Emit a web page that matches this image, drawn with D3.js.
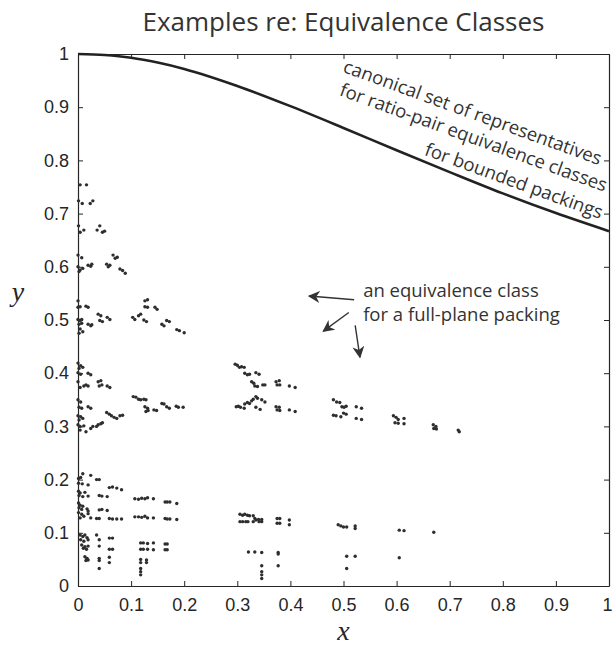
<!DOCTYPE html>
<html>
<head>
<meta charset="utf-8">
<script src="https://cdn.jsdelivr.net/npm/d3@7"></script>
<style>
  html, body { margin: 0; padding: 0; background: #fff; }
  svg { display: block; }
</style>
</head>
<body>
<svg id="chart" width="613" height="648"></svg>
<script>
// ---------- data ----------
const xTicks = [0, 0.1, 0.2, 0.3, 0.4, 0.5, 0.6, 0.7, 0.8, 0.9, 1];
const yTicks = [0, 0.1, 0.2, 0.3, 0.4, 0.5, 0.6, 0.7, 0.8, 0.9, 1];
const xTickLabels = ["0", "0.1", "0.2", "0.3", "0.4", "0.5", "0.6", "0.7", "0.8", "0.9", "1"];

// boundary curve of canonical representatives
const curveX = [0, 0.05, 0.1, 0.15, 0.2, 0.3, 0.4, 0.5, 0.6, 0.7, 0.8, 0.9, 1];
const curveY = [1, 0.998, 0.993, 0.984, 0.972, 0.940, 0.902, 0.861, 0.819, 0.778, 0.738, 0.701, 0.667];

// scatter points, grouped by band
const bandTop = [
  [0.004,0.754],[0.016,0.754],
  [0.001,0.724],[0.008,0.719],[0.023,0.719],[0.028,0.724],
  [0.001,0.677],[0.004,0.665],[0.011,0.669],[0.036,0.669],[0.041,0.677],[0.046,0.665],[0.050,0.667],
  [0.000,0.622],[0.007,0.617],[0.000,0.600],[0.004,0.594],[0.009,0.597],[0.002,0.591],
  [0.019,0.603],[0.024,0.601],[0.026,0.605],
  [0.054,0.605],[0.057,0.600],[0.060,0.603],
  [0.066,0.622],[0.070,0.616],[0.074,0.618],
  [0.079,0.596],[0.084,0.593],[0.089,0.588]
];
const bandHalf = [
  [0.000,0.536],[0.004,0.525],[0.000,0.524],[0.015,0.526],[0.019,0.524],
  [0.126,0.536],[0.131,0.538],
  [0.126,0.525],[0.131,0.524],[0.145,0.524],[0.149,0.520],
  [0.000,0.501],[0.004,0.499],[0.007,0.501],[0.002,0.492],[0.007,0.494],
  [0.019,0.492],[0.024,0.489],[0.026,0.491],
  [0.038,0.511],[0.043,0.508],[0.041,0.499],[0.046,0.497],[0.055,0.505],[0.060,0.501],
  [0.103,0.505],[0.107,0.501],[0.114,0.508],[0.118,0.511],[0.124,0.500],[0.129,0.497],
  [0.158,0.492],[0.162,0.489],[0.167,0.499],[0.172,0.497],[0.186,0.482],[0.191,0.480],[0.200,0.476],
  [0.004,0.483],[0.009,0.478],[0.002,0.475]
];
const bandThirdLeft = [
  [0.000,0.419],[0.005,0.414],[0.002,0.409],[0.009,0.411],
  [0.000,0.401],[0.005,0.398],[0.019,0.400],[0.024,0.397],
  [0.000,0.384],[0.004,0.373],[0.011,0.376],[0.015,0.378],[0.019,0.376],
  [0.038,0.384],[0.043,0.386],[0.040,0.376],[0.045,0.378],[0.055,0.376],[0.060,0.373],
  [0.000,0.350],[0.005,0.346],[0.002,0.336],[0.007,0.334],[0.019,0.337],[0.024,0.334],
  [0.104,0.356],[0.109,0.355],[0.114,0.351],[0.118,0.350],[0.124,0.351],[0.128,0.350],
  [0.126,0.337],[0.131,0.334],[0.128,0.328],[0.132,0.330],[0.143,0.331],[0.148,0.330],
  [0.158,0.343],[0.162,0.342],[0.167,0.337],[0.172,0.334],[0.185,0.338],[0.189,0.336],[0.198,0.336],
  [0.000,0.320],[0.005,0.318],[0.009,0.315],[0.002,0.312],
  [0.054,0.326],[0.059,0.323],[0.063,0.320],[0.068,0.317],[0.073,0.315],[0.079,0.320],[0.084,0.321],
  [0.038,0.303],[0.043,0.305],[0.046,0.307],[0.035,0.300],
  [0.000,0.303],[0.004,0.300],[0.011,0.301],[0.004,0.293],[0.015,0.290],[0.024,0.296],[0.028,0.300]
];
const bandThirdRight = [
  [0.296,0.417],[0.300,0.415],[0.304,0.411],[0.308,0.412],[0.313,0.411],
  [0.314,0.400],[0.319,0.397],[0.323,0.398],[0.335,0.401],[0.341,0.398],
  [0.327,0.384],[0.331,0.381],[0.333,0.376],[0.338,0.375],[0.348,0.378],[0.352,0.378],
  [0.373,0.384],[0.379,0.386],[0.375,0.378],[0.380,0.378],
  [0.398,0.376],[0.409,0.373],
  [0.330,0.351],[0.335,0.356],[0.338,0.353],[0.327,0.348],[0.346,0.350],[0.352,0.346],
  [0.298,0.337],[0.302,0.338],[0.306,0.336],[0.314,0.342],[0.319,0.345],[0.323,0.343],[0.313,0.334],
  [0.335,0.336],[0.343,0.332],
  [0.373,0.337],[0.379,0.336],[0.375,0.331],[0.380,0.330],
  [0.398,0.331],[0.409,0.328],
  [0.481,0.350],[0.487,0.346],[0.493,0.345],[0.497,0.337],[0.501,0.336],[0.505,0.338],
  [0.481,0.321],[0.486,0.320],[0.495,0.318],[0.500,0.325],[0.505,0.323],
  [0.524,0.337],[0.534,0.334],[0.524,0.315],[0.534,0.313],
  [0.594,0.320],[0.599,0.317],[0.603,0.313],[0.614,0.315],[0.597,0.307],[0.603,0.306],[0.614,0.305],
  [0.669,0.303],[0.674,0.300],[0.670,0.296],[0.675,0.295],
  [0.716,0.293],[0.718,0.290]
];
const bandLowLeft = [
  [0.009,0.211],[0.024,0.208],[0.035,0.200],[0.040,0.200],
  [0.001,0.202],[0.005,0.204],[0.001,0.193],[0.008,0.192],[0.019,0.190],
  [0.059,0.185],[0.065,0.186],[0.073,0.184],[0.082,0.181],
  [0.001,0.178],[0.004,0.175],[0.013,0.176],[0.002,0.170],[0.009,0.168],[0.019,0.169],
  [0.040,0.170],[0.045,0.169],[0.055,0.168],
  [0.107,0.164],[0.114,0.163],[0.120,0.165],[0.126,0.164],[0.131,0.166],[0.142,0.164],
  [0.164,0.158],[0.168,0.158],[0.173,0.158],[0.186,0.155],
  [0.001,0.156],[0.004,0.152],[0.009,0.150],[0.002,0.147],[0.007,0.144],[0.017,0.145],[0.019,0.141],[0.001,0.138],[0.007,0.135],[0.019,0.136],
  [0.040,0.143],[0.045,0.144],[0.055,0.142],
  [0.107,0.130],[0.114,0.130],[0.120,0.129],[0.126,0.131],[0.131,0.128],[0.142,0.128],
  [0.004,0.128],[0.011,0.131],[0.024,0.128],[0.035,0.127],[0.040,0.127],
  [0.059,0.127],[0.065,0.126],[0.073,0.126],[0.082,0.126],
  [0.164,0.127],[0.168,0.126],[0.173,0.126],[0.186,0.125]
];
const bandLowRight = [
  [0.305,0.135],[0.310,0.133],[0.314,0.135],[0.319,0.133],[0.323,0.132],
  [0.305,0.121],[0.310,0.121],[0.316,0.121],[0.320,0.121],
  [0.330,0.132],[0.333,0.127],[0.330,0.121],[0.335,0.124],[0.340,0.125],[0.346,0.125],[0.346,0.121],[0.341,0.121],
  [0.375,0.127],[0.380,0.127],[0.375,0.118],[0.380,0.118],
  [0.398,0.124],[0.398,0.115],
  [0.490,0.115],[0.495,0.113],[0.500,0.111],[0.506,0.111],[0.522,0.113],[0.522,0.108],
  [0.605,0.105],[0.614,0.104],
  [0.670,0.101]
];
const bandBottom = [
  [0.004,0.096],[0.009,0.093],[0.013,0.096],[0.017,0.091],[0.005,0.087],[0.011,0.084],[0.019,0.087],
  [0.007,0.077],[0.013,0.074],[0.019,0.075],[0.010,0.071],[0.016,0.069],
  [0.035,0.096],[0.040,0.087],[0.040,0.075],
  [0.059,0.090],[0.065,0.090],[0.059,0.069],[0.065,0.069],
  [0.013,0.055],[0.017,0.052],[0.015,0.048],[0.019,0.049],
  [0.040,0.052],[0.040,0.048],[0.040,0.033],
  [0.059,0.054],[0.059,0.044],
  [0.118,0.081],[0.123,0.081],[0.131,0.080],[0.142,0.081],
  [0.118,0.069],[0.123,0.069],[0.131,0.069],[0.142,0.068],
  [0.164,0.079],[0.168,0.079],[0.164,0.068],[0.168,0.068],
  [0.118,0.050],[0.129,0.049],[0.118,0.044],[0.129,0.044],
  [0.118,0.033],[0.118,0.027],[0.118,0.021],
  [0.321,0.064],[0.333,0.064],[0.346,0.063],
  [0.377,0.063],[0.377,0.060],
  [0.346,0.038],[0.346,0.027],[0.346,0.021],[0.346,0.014],
  [0.377,0.038],
  [0.506,0.056],[0.522,0.056],[0.506,0.033],
  [0.605,0.053]
];

// annotations
const titleText = "Examples re: Equivalence Classes";
const curveNote = ["canonical set of representatives", "for ratio-pair equivalence classes", "for bounded packings"];
const curveNoteEnds = [[0.981, 0.791], [0.991, 0.741], [0.983, 0.690]];
const classNote = ["an equivalence class", "for a full-plane packing"];
const classNoteAt = [0.537, 0.543];
const arrows = [
  { from: [0.520, 0.538], to: [0.435, 0.545] },
  { from: [0.510, 0.514], to: [0.462, 0.479] },
  { from: [0.522, 0.490], to: [0.531, 0.430] }
];

// ---------- drawing ----------
const svg = d3.select("#chart");
const M = { left: 78, right: 609, top: 54, bottom: 586 };
const x = d3.scaleLinear().domain([0, 1]).range([M.left, M.right]);
const y = d3.scaleLinear().domain([0, 1]).range([M.bottom, M.top]);
const ink = "#262626";
const tickFont = "'Liberation Sans', Arial, sans-serif";
const textFont = "'Open Sans', 'Noto Sans', sans-serif";
const serif = "'Liberation Serif', 'DejaVu Serif', serif";

// title
svg.append("text")
  .attr("x", (M.left + M.right) / 2).attr("y", 31)
  .attr("text-anchor", "middle")
  .attr("font-family", textFont).attr("font-size", 26)
  .attr("fill", "#333")
  .text(titleText);

// axes
function styleAxis(g) {
  g.selectAll("path.domain").attr("stroke", ink).attr("stroke-width", 1.2);
  g.selectAll(".tick line").attr("stroke", ink).attr("stroke-width", 1);
  g.selectAll(".tick text").attr("fill", ink).attr("font-family", tickFont).attr("font-size", 18);
}
const gx = svg.append("g").attr("transform", `translate(0,${M.bottom})`)
  .call(d3.axisBottom(x).tickValues(xTicks).tickFormat((d, i) => xTickLabels[i])
    .tickSizeInner(-5).tickSizeOuter(0).tickPadding(12))
  .call(styleAxis);
// keep the last label inside the picture
gx.selectAll(".tick text").filter(d => d === 1).attr("dx", -2);

svg.append("g").attr("transform", `translate(${M.left},0)`)
  .call(d3.axisLeft(y).tickValues(yTicks).tickFormat((d, i) => xTickLabels[i])
    .tickSizeInner(-5).tickSizeOuter(0).tickPadding(9))
  .call(styleAxis);
svg.append("g").attr("transform", `translate(0,${M.top})`)
  .call(d3.axisTop(x).tickValues(xTicks).tickFormat("").tickSizeInner(-5).tickSizeOuter(0))
  .call(styleAxis);
svg.append("g").attr("transform", `translate(${M.right},0)`)
  .call(d3.axisRight(y).tickValues(yTicks).tickFormat("").tickSizeInner(-5).tickSizeOuter(0))
  .call(styleAxis);

// axis titles
svg.append("text")
  .attr("x", (M.left + M.right) / 2).attr("y", 640)
  .attr("text-anchor", "middle")
  .attr("font-family", serif).attr("font-style", "italic")
  .attr("font-size", 28).attr("fill", ink)
  .text("x");
svg.append("text")
  .attr("x", 18).attr("y", 301)
  .attr("text-anchor", "middle")
  .attr("font-family", serif).attr("font-style", "italic")
  .attr("font-size", 28).attr("fill", ink)
  .text("y");

// curve
const curvePts = curveX.map((v, i) => [v, curveY[i]]);
svg.append("path")
  .attr("d", d3.line().x(d => x(d[0])).y(d => y(d[1])).curve(d3.curveMonotoneX)(curvePts))
  .attr("fill", "none").attr("stroke", "#222").attr("stroke-width", 2.6);

// points
const allPoints = [].concat(bandTop, bandHalf, bandThirdLeft, bandThirdRight, bandLowLeft, bandLowRight, bandBottom);
svg.append("g").selectAll("circle").data(allPoints).join("circle")
  .attr("cx", d => x(d[0])).attr("cy", d => y(d[1])).attr("r", 1.7)
  .attr("fill", "#2e2e2e");

// curve annotation (rotated, right aligned)
curveNote.forEach((t, i) => {
  const px = x(curveNoteEnds[i][0]), py = y(curveNoteEnds[i][1]);
  svg.append("text")
    .attr("transform", `translate(${px},${py}) rotate(20)`)
    .attr("text-anchor", "end")
    .attr("font-family", textFont).attr("font-size", 18.5)
    .attr("fill", "#333")
    .text(t);
});

// class annotation
classNote.forEach((t, i) => {
  svg.append("text")
    .attr("x", x(classNoteAt[0])).attr("y", y(classNoteAt[1]) + i * 24)
    .attr("font-family", textFont).attr("font-size", 18.5)
    .attr("fill", "#333")
    .text(t);
});

// arrows
const defs = svg.append("defs");
defs.append("marker").attr("id", "ah")
  .attr("viewBox", "0 0 10 10").attr("refX", 9).attr("refY", 5)
  .attr("markerWidth", 12).attr("markerHeight", 12).attr("markerUnits", "userSpaceOnUse")
  .attr("orient", "auto")
  .append("path").attr("d", "M0,0 L10,5 L0,10 L3,5 Z").attr("fill", "#333");
svg.append("g").selectAll("line").data(arrows).join("line")
  .attr("x1", d => x(d.from[0])).attr("y1", d => y(d.from[1]))
  .attr("x2", d => x(d.to[0])).attr("y2", d => y(d.to[1]))
  .attr("stroke", "#333").attr("stroke-width", 1.4)
  .attr("marker-end", "url(#ah)");
</script>
</body>
</html>
